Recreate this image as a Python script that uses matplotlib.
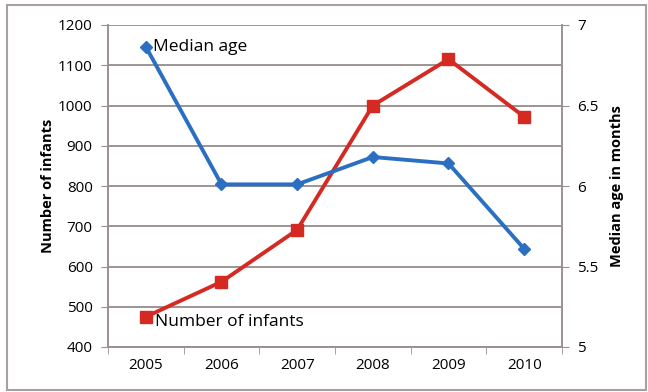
import matplotlib
matplotlib.use("Agg")
import matplotlib.pyplot as plt
from matplotlib.patches import Rectangle

plt.rcParams['font.family'] = ['Open Sans', 'DejaVu Sans']

years = ["2005", "2006", "2007", "2008", "2009", "2010"]
infants = [475, 562, 691, 1000, 1115, 972]
median_age = [6.865, 6.01, 6.01, 6.18, 6.14, 5.61]

left_ticks = [400, 500, 600, 700, 800, 900, 1000, 1100, 1200]
right_ticks = [5, 5.5, 6, 6.5, 7]
right_labels = ["5", "5.5", "6", "6.5", "7"]

red = "#d42a22"
blue = "#2a6fc2"
grid_c = "#8c8282"
spine_c = "#9a9090"

fig = plt.figure(figsize=(6.48, 3.92), dpi=100)
ax = fig.add_axes([108 / 648, 1 - 347 / 392, (562 - 108) / 648, (347 - 25) / 392])
ax2 = ax.twinx()

x = list(range(len(years)))

ax.set_xlim(-0.5, len(years) - 0.5)
ax.set_ylim(400, 1200)
ax.set_yticks(left_ticks)
ax.set_yticklabels([str(v) for v in left_ticks], fontsize=11)
ax.yaxis.grid(True, color=grid_c, linewidth=1.2)
ax.set_axisbelow(True)

ax.set_xticks(x)
ax.set_xticklabels(years, fontsize=11)
ax.set_xticks([i + 0.5 for i in range(-1, len(years))], minor=True)
ax.tick_params(axis='x', which='major', length=0, pad=8)
ax.tick_params(axis='x', which='minor', length=5, color=spine_c, direction='out')
ax.tick_params(axis='y', length=5, color=spine_c, direction='out', pad=6)

ax2.set_ylim(5, 7)
ax2.set_yticks(right_ticks)
ax2.set_yticklabels(right_labels, fontsize=11)
ax2.tick_params(axis='y', length=5, color=spine_c, direction='out', pad=6)

for a in (ax, ax2):
    a.spines['top'].set_visible(False)
    for s in ('left', 'right', 'bottom'):
        a.spines[s].set_color(spine_c)
        a.spines[s].set_linewidth(1.2)

ax.plot(x, infants, color=red, linewidth=2.8, marker='s', markersize=9,
        markeredgecolor=red, zorder=3)
ax2.plot(x, median_age, color=blue, linewidth=2.8, marker='D', markersize=6.5,
         markeredgecolor=blue, zorder=3)

ax.text(x[0] + 0.12, infants[0] - 12, "Number of infants", fontsize=12.5,
        ha='left', va='center', color='black', zorder=5)
ax2.text(x[0] + 0.1, median_age[0], "Median age", fontsize=12.5,
         ha='left', va='center', color='black', zorder=5)

ax.set_ylabel("Number of infants", fontsize=10.5, fontweight='bold', labelpad=2)
ax2.set_ylabel("Median age in months", fontsize=10.5, fontweight='bold', labelpad=8)

fig.patches.append(Rectangle((7 / 648, 2 / 392), 639 / 648, 385 / 392,
                             transform=fig.transFigure, fill=False,
                             edgecolor="#a8a0a0", linewidth=1.5))

fig.savefig("out.png", dpi=100)
